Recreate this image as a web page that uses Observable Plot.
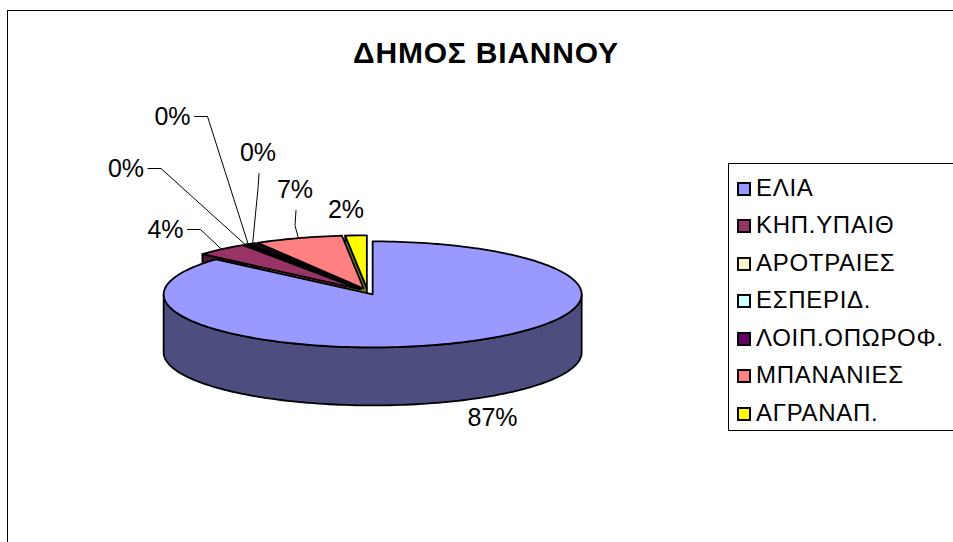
<!DOCTYPE html>
<html>
<head>
<meta charset="utf-8">
<script src="https://cdn.jsdelivr.net/npm/d3@7"></script>
<script src="https://cdn.jsdelivr.net/npm/@observablehq/plot@0.6"></script>
<style>
  body { margin: 0; background: #fff; font-family: "Liberation Sans", Arial, sans-serif; }
  #wrap { position: relative; width: 953px; height: 542px; overflow: hidden; background: #fff; }
  #chart { position: absolute; left: 0; top: 0; }
  #frame { position: absolute; left: 7px; top: 10px; width: 1000px; height: 600px;
           border-left: 1.5px solid #000; border-top: 1.5px solid #000; box-sizing: border-box; }
  #title { position: absolute; left: 0; width: 972px; top: 37px; text-align: center;
           font-weight: bold; font-size: 30px; line-height: 31px; letter-spacing: 0.8px; color: #000; white-space: nowrap; }
  #legend { position: absolute; left: 728px; top: 163px; width: 260px; height: 268px;
            border: 1px solid #000; box-sizing: border-box; }
  .item { position: absolute; left: 8px; font-size: 24px; line-height: 23px; letter-spacing: 0.7px; white-space: nowrap; color: #000; }
  .sw { display: inline-block; width: 14px; height: 14px; box-sizing: border-box; border: 2px solid #000;
        margin-right: 5px; vertical-align: baseline; }
</style>
</head>
<body>
<div id="wrap">
  <div id="chart"></div>
  <div id="frame"></div>
  <div id="title"></div>
  <div id="legend"></div>
</div>
<script>
// ---- data ----
const title = "ΔΗΜΟΣ ΒΙΑΝΝΟΥ";
const categories = ["ΕΛΙΑ", "ΚΗΠ.ΥΠΑΙΘ", "ΑΡΟΤΡΑΙΕΣ", "ΕΣΠΕΡΙΔ.", "ΛΟΙΠ.ΟΠΩΡΟΦ.", "ΜΠΑΝΑΝΙΕΣ", "ΑΓΡΑΝΑΠ."];
const shares = [86.5, 4.1, 0.2, 0.3, 0.45, 6.8, 1.65];   // percent of total (estimated)
const topColors  = ["#9999FF", "#993366", "#FFFFCC", "#CCFFFF", "#660066", "#FF8080", "#FFFF00"];
const sideColors = ["#4D4D80", "#4D1933", "#808066", "#668080", "#330033", "#804040", "#808000"];

// ---- layout (pixels) ----
const CX = 367, CY = 291, RX = 209, RY = 53, DEPTH = 58, EXPLODE = 0.06;
const DZ = DEPTH / RY;
// label positions (pixel centers) and leader style, per slice
const labelLayout = [
  {px: 492, py: 417, leader: null},
  {px: 165, py: 229, leader: "side"},
  {px: 125.5, py: 168, leader: "side"},
  {px: 172, py: 116, leader: "side"},
  {px: 257.5, py: 152, leader: "below"},
  {px: 294.5, py: 189, leader: "below"},
  {px: 345.5, py: 209, leader: null}
];
const ux = px => (px - CX) / RX;
const uy = py => (CY - py) / RY;

// ---- geometry ----
const arcs = d3.pie().sort(null).value(d => d)(shares);
const P = (a, r, o, z) => ({x: o[0] + r * Math.sin(a), y: o[1] + r * Math.cos(a) - z * DZ});
function arcPts(a0, a1, o, z) {
  const n = Math.max(2, Math.ceil(Math.abs(a1 - a0) / (Math.PI / 120)));
  return d3.range(n + 1).map(i => P(a0 + (a1 - a0) * i / n, 1, o, z));
}
const faces = [], tops = [], leaders = [], labels = [];
arcs.forEach((arc, i) => {
  const a0 = arc.startAngle, a1 = arc.endAngle, mid = (a0 + a1) / 2;
  const o = [EXPLODE * Math.sin(mid), EXPLODE * Math.cos(mid)];
  // radial cut faces
  if (Math.sin(a0) < -1e-6) faces.push({order: 0, col: sideColors[i], pts: [P(0,0,o,0), P(a0,1,o,0), P(a0,1,o,1), P(0,0,o,1)]});
  if (Math.sin(a1) > 1e-6) faces.push({order: 0, col: sideColors[i], pts: [P(0,0,o,0), P(a1,1,o,0), P(a1,1,o,1), P(0,0,o,1)]});
  // front rim
  const b0 = Math.max(a0, Math.PI / 2), b1 = Math.min(a1, 3 * Math.PI / 2);
  if (b1 > b0) faces.push({order: 1, col: sideColors[i], pts: [...arcPts(b0, b1, o, 0), ...arcPts(b1, b0, o, 1)]});
  // top
  tops.push({col: topColors[i], pts: [P(0,0,o,0), ...arcPts(a0, a1, o, 0)]});
  // label
  const L = labelLayout[i];
  labels.push({x: ux(L.px), y: uy(L.py), text: Math.round(shares[i]) + "%"});
  const anchor = P(mid, 1, o, 0);
  if (L.leader === "side") {
    leaders.push([{x: ux(L.px + 22), y: uy(L.py)}, {x: ux(L.px + 35), y: uy(L.py)}, anchor]);
  } else if (L.leader === "below") {
    leaders.push([{x: ux(L.px + 1), y: uy(L.py + 21)}, {x: ux(L.px), y: uy(L.py + 36)}, anchor]);
  }
});
faces.sort((a, b) => a.order - b.order);

const poly = (f) => Plot.line(f.pts, {x: "x", y: "y", curve: "linear-closed", fill: f.col,
  stroke: "#000", strokeWidth: 1.8, strokeLinejoin: "round"});

const chart = Plot.plot({
  width: 953, height: 542, margin: 0,
  style: {background: "transparent", overflow: "visible"},
  x: {domain: [-1, 1], range: [CX - RX, CX + RX], axis: null},
  y: {domain: [-1, 1], range: [CY + RY, CY - RY], axis: null},
  marks: [
    ...faces.map(poly),
    ...tops.map(poly),
    ...leaders.map(l => Plot.line(l, {x: "x", y: "y", stroke: "#000", strokeWidth: 1})),
    Plot.text(labels, {x: "x", y: "y", text: "text", fontSize: 25,
      fontFamily: "Liberation Sans, Arial, sans-serif", fill: "#000"})
  ]
});
document.getElementById("chart").appendChild(chart);

// ---- title & legend ----
document.getElementById("title").textContent = title;
const legend = document.getElementById("legend");
categories.forEach((c, i) => {
  const baseline = 194 + 37.55 * i;
  const div = document.createElement("div");
  div.className = "item";
  div.style.top = (baseline - 163 - 19.5) + "px";
  const sw = document.createElement("span");
  sw.className = "sw";
  sw.style.background = topColors[i];
  div.appendChild(sw);
  div.appendChild(document.createTextNode(c));
  legend.appendChild(div);
});
</script>
</body>
</html>
